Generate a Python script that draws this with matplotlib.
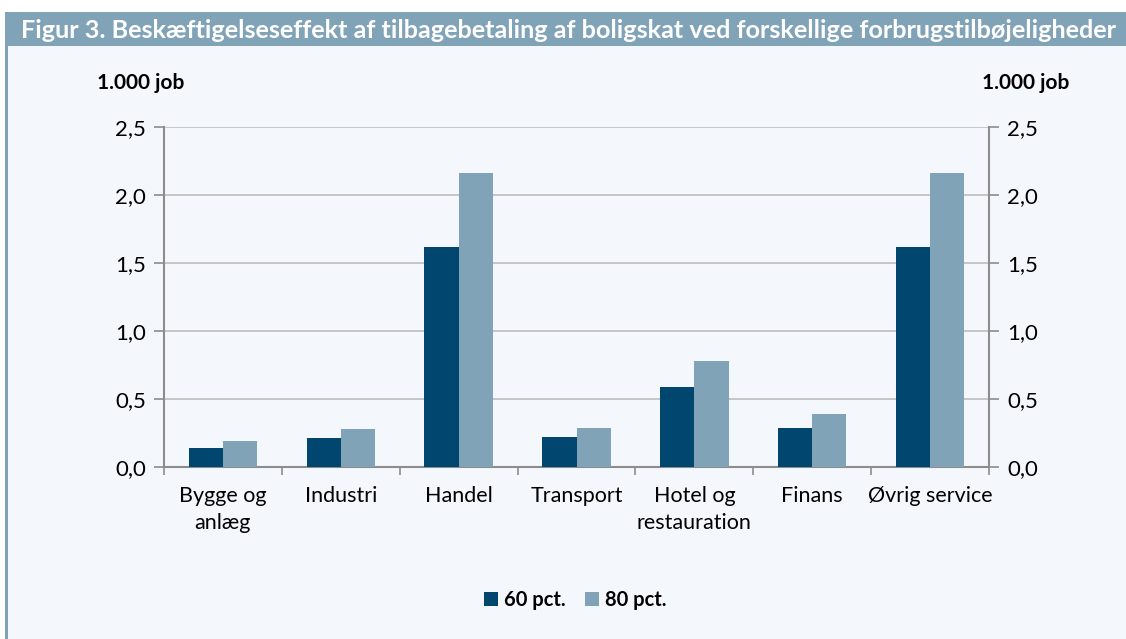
import matplotlib
matplotlib.use("Agg")
import matplotlib.pyplot as plt
import numpy as np
from matplotlib.patches import Rectangle

plt.rcParams['font.family'] = ['Lato', 'DejaVu Sans']

categories = ["Bygge og\nanlæg", "Industri", "Handel", "Transport", "Hotel og\nrestauration", "Finans", "Øvrig service"]
series_names = ["60 pct.", "80 pct."]
values_60 = [0.14, 0.21, 1.62, 0.22, 0.59, 0.29, 1.62]
values_80 = [0.19, 0.28, 2.16, 0.29, 0.78, 0.39, 2.16]
yticks = [0.0, 0.5, 1.0, 1.5, 2.0, 2.5]
ytick_labels = ["0,0", "0,5", "1,0", "1,5", "2,0", "2,5"]
title = "Figur 3. Beskæftigelseseffekt af tilbagebetaling af boligskat ved forskellige forbrugstilbøjeligheder"
unit = "1.000 job"

c60 = "#00466E"
c80 = "#81A3B8"
bg = "#F4F8FC"
spine_c = "#8C8C8C"
grid_c = "#BEBEBE"

W, H = 1126, 639
fig = plt.figure(figsize=(W/100, H/100), dpi=100)
fig.patch.set_facecolor("white")

# background panel
fig.patches.append(Rectangle((5/W, 0), 1 - 5/W, 1 - 46/H, transform=fig.transFigure,
                             facecolor=bg, edgecolor="none", zorder=-3))
# left border line
fig.patches.append(Rectangle((5/W, 0), 3/W, 1 - 12/H, transform=fig.transFigure,
                             facecolor=c80, edgecolor="none", zorder=-2))
# title bar
fig.patches.append(Rectangle((5/W, 1 - 46/H), 1 - 5/W, 34/H, transform=fig.transFigure,
                             facecolor=c80, edgecolor="none", zorder=-2))
fig.text(21/W, 1 - 30/H, title, color="white", fontsize=18.2, fontweight="bold",
         va="center", ha="left", zorder=2)

left, right, top, bottom = 164, 989, 127, 467
ax = fig.add_axes([left/W, 1 - bottom/H, (right-left)/W, (bottom-top)/H])
ax.set_facecolor("none")
ax.set_zorder(5)

x = np.arange(len(categories))
bw = 0.29
ax.bar(x - bw/2, values_60, bw, color=c60, label=series_names[0], zorder=3)
ax.bar(x + bw/2, values_80, bw, color=c80, label=series_names[1], zorder=3)

ax.set_xlim(-0.5, len(categories) - 0.5)
ax.set_ylim(0, 2.5)
ax.set_yticks(yticks)
ax.set_yticklabels(ytick_labels)
ax.yaxis.grid(True, color=grid_c, linewidth=1.2, zorder=0)
ax.set_axisbelow(True)

ax.spines["top"].set_visible(False)
for s in ["left", "right", "bottom"]:
    ax.spines[s].set_color(spine_c)
    ax.spines[s].set_linewidth(1.5)

ax.tick_params(axis="y", which="both", left=True, right=True, labelleft=True, labelright=True,
               direction="out", length=7, width=1.2, color=spine_c, labelsize=16, pad=6)
ax.set_xticks(x)
ax.set_xticklabels(categories, fontsize=15.5, linespacing=1.4)
ax.tick_params(axis="x", which="major", length=0, pad=14)
ax.set_xticks(np.arange(-0.5, len(categories), 1.0), minor=True)
ax.tick_params(axis="x", which="minor", direction="out", length=6, width=1.2, color=spine_c)

fig.text(97/W, 1 - 83/H, unit, fontsize=15, fontweight="bold", va="center", ha="left")
fig.text(1069/W, 1 - 83/H, unit, fontsize=15, fontweight="bold", va="center", ha="right")

leg = fig.legend(loc="center", bbox_to_anchor=(575/W, 1 - 600/H), ncol=2, frameon=False,
                 prop={"weight": "bold", "size": 14.5}, handlelength=0.7, handleheight=0.7,
                 handletextpad=0.3, columnspacing=0.95)

fig.savefig("out.png", dpi=100, facecolor=fig.get_facecolor())
